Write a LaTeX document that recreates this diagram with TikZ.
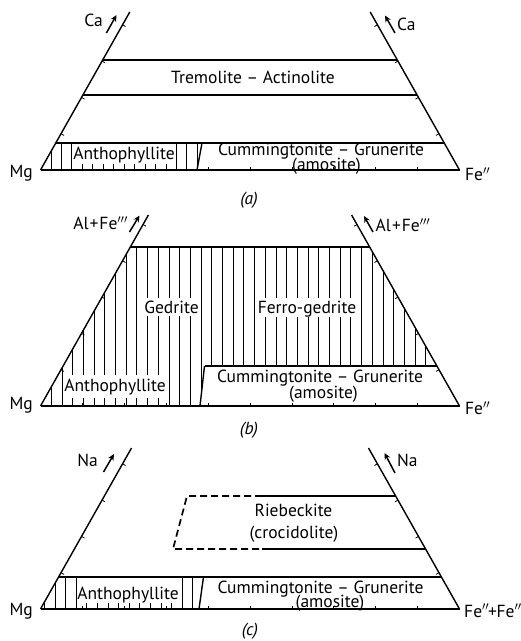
\documentclass[tikz,border=0pt]{standalone}
\usepackage{fontspec}
\setmainfont{PT Sans}
\usetikzlibrary{arrows.meta}
\begin{document}
\begin{tikzpicture}[x=1pt,y=-1pt,
  edge/.style={line width=1.4pt},
  hline/.style={line width=1.7pt},
  hatchline/.style={line width=0.8pt},
  tickmark/.style={line width=0.8pt},
  lbl/.style={font=\fontsize{17.5}{18}\selectfont, inner sep=0pt, anchor=base},
  dirarrow/.style={line width=1.5pt,-{Stealth[length=6.5pt,width=6pt]}},
  dashline/.style={line width=1.7pt, dash pattern=on 7pt off 4pt}]
\useasboundingbox (0,0) rectangle (521,641);

% ================= panel (a) =================
\begin{scope}
\clip (40.5,170) -- (55.8,143) -- (202,143) -- (197,170) -- cycle;
\foreach \n in {1,...,15} \draw[hatchline] ({40.5+10.45*\n},130) -- ({40.5+10.45*\n},175);
\end{scope}
\fill[white] (72.6,144) rectangle (175.6,163.5);
\draw[edge] (129.8,12) -- (40.5,170);
\draw[edge] (370.2,12) -- (459.5,170);
\draw[hline] (40.5,170) -- (459.5,170);
\draw[hline] (102.7,60) -- (397.4,60);
\draw[hline] (82.9,95) -- (417.1,95);
\draw[hline] (55.8,143) -- (444.2,143);
\draw[edge] (197,170) -- (202,143);
\foreach \k in {1,...,4} {
  \draw[tickmark] ({40.5+20.5*\k},{170-36.3*\k}) -- ++(3.05,1.72);
  \draw[tickmark] ({459.5-20.5*\k},{170-36.3*\k}) -- ++(-3.05,1.72);
}
\foreach \k in {1,...,9} \draw[tickmark] ({40.5+41.9*\k},170) -- ++(0,-3.5);
\node[lbl] (tremact) at (253,83) {Tremolite -- Actinolite};
\node[lbl] (anthA) at (124,159.5) {Anthophyllite};
\node[lbl] (cummA) at (321,155.5) {Cummingtonite -- Grunerite};
\node[lbl] (amosA) at (326.5,170) {(amosite)};
\node[lbl,anchor=base east] (mgA) at (33,177) {Mg};
\node[lbl,anchor=base west] (feA) at (465,180.5) {Fe$''$};
\node[lbl] (capA) at (249,204) {\textit{(a)}};
\draw[dirarrow] (106.4,33) -- (116.5,15);
\node[lbl,anchor=base east] (caL) at (103,26) {Ca};
\draw[dirarrow] (395,33) -- (385,15.5);
\node[lbl,anchor=base west] (caR) at (397,30) {Ca};

% ================= panel (b) =================
\begin{scope}
\clip (40.5,406) -- (130.3,247) -- (369.7,247) -- (436.9,366) -- (204.5,366) -- (200,406) -- cycle;
\foreach \n in {1,...,37} \draw[hatchline] ({40.5+10.7*\n},240) -- ({40.5+10.7*\n},410);
\end{scope}
\fill[white] (137.6,298) rectangle (200.2,315.5);
\fill[white] (255.3,298) rectangle (360.7,317);
\fill[white] (62.7,375) rectangle (168.1,397.5);
\draw[edge] (148.4,215) -- (40.5,406);
\draw[edge] (351.6,215) -- (459.5,406);
\draw[hline] (40.5,406) -- (459.5,406);
\draw[hline] (130.3,247) -- (369.7,247);
\draw[hline] (204.5,366) -- (436.9,366);
\draw[edge] (200,406) -- (204.5,366);
\foreach \k in {1,...,5} {
  \draw[tickmark] ({40.5+20.5*\k},{406-36.3*\k}) -- ++(3.05,1.72);
  \draw[tickmark] ({459.5-20.5*\k},{406-36.3*\k}) -- ++(-3.05,1.72);
}
\foreach \k in {1,...,9} \draw[tickmark] ({40.5+41.9*\k},406) -- ++(0,-3.5);
\node[lbl] (gedB) at (171.5,313) {Gedrite};
\node[lbl] (fgedB) at (307,313.5) {Ferro-gedrite};
\node[lbl] (anthB) at (115,391) {Anthophyllite};
\node[lbl] (cummB) at (320,382) {Cummingtonite -- Grunerite};
\node[lbl] (amosB) at (323.5,398.5) {(amosite)};
\node[lbl,anchor=base east] (mgB) at (33,409.3) {Mg};
\node[lbl,anchor=base west] (feB) at (465,414.3) {Fe$''$};
\node[lbl] (capB) at (249,434) {\textit{(b)}};
\draw[dirarrow] (129.5,232) -- (139.5,215.5);
\node[lbl,anchor=base east] (alL) at (128,229.3) {Al\kern1pt+\kern1ptFe$'''$};
\draw[dirarrow] (373,232) -- (364,216);
\node[lbl,anchor=base west] (alR) at (375.5,231.5) {Al\kern1pt+\kern1ptFe$'''$};

% ================= panel (c) =================
\begin{scope}
\clip (40.5,609) -- (58.6,577) -- (203.5,577) -- (199,609) -- cycle;
\foreach \n in {0,...,15} \draw[hatchline] ({44.4+10.6*\n},570) -- ({44.4+10.6*\n},612);
\end{scope}
\fill[white] (77,577.8) rectangle (181.4,602.5);
\draw[edge] (131.5,448) -- (40.5,609);
\draw[edge] (368.5,448) -- (459.5,609);
\draw[hline] (40.5,609) -- (459.5,609);
\draw[hline] (58.6,577) -- (441.4,577);
\draw[edge] (199,609) -- (203.5,577);
\draw[dashline] (262,496) -- (187,496) -- (173,549) -- (262,549);
\draw[hline] (262,496) -- (395.7,496);
\draw[hline] (262,549) -- (425.6,549);
\foreach \k in {1,...,4} {
  \draw[tickmark] ({40.5+20.5*\k},{609-36.3*\k}) -- ++(3.05,1.72);
  \draw[tickmark] ({459.5-20.5*\k},{609-36.3*\k}) -- ++(-3.05,1.72);
}
\foreach \k in {1,...,9} \draw[tickmark] ({40.5+41.9*\k},609) -- ++(0,-3.5);
\node[lbl] (riebC) at (293.5,516) {Riebeckite};
\node[lbl] (crocC) at (294,538) {(crocidolite)};
\node[lbl] (anthC) at (128,599.3) {Anthophyllite};
\node[lbl] (cummC) at (320.5,593) {Cummingtonite -- Grunerite};
\node[lbl] (amosC) at (330,607) {(amosite)};
\node[lbl,anchor=base east] (mgC) at (33,615) {Mg};
\node[lbl,anchor=base west] (feC) at (464,617) {Fe$''$\kern-1pt+\kern-0.5ptFe$'''$};
\node[lbl] (capC) at (250,635.5) {\textit{(c)}};
\draw[dirarrow] (103.5,472) -- (114,454);
\node[lbl,anchor=base east] (naL) at (98,466) {Na};
\draw[dirarrow] (395,473) -- (384.5,453);
\node[lbl,anchor=base west] (naR) at (397,466) {Na};
\end{tikzpicture}
\end{document}
